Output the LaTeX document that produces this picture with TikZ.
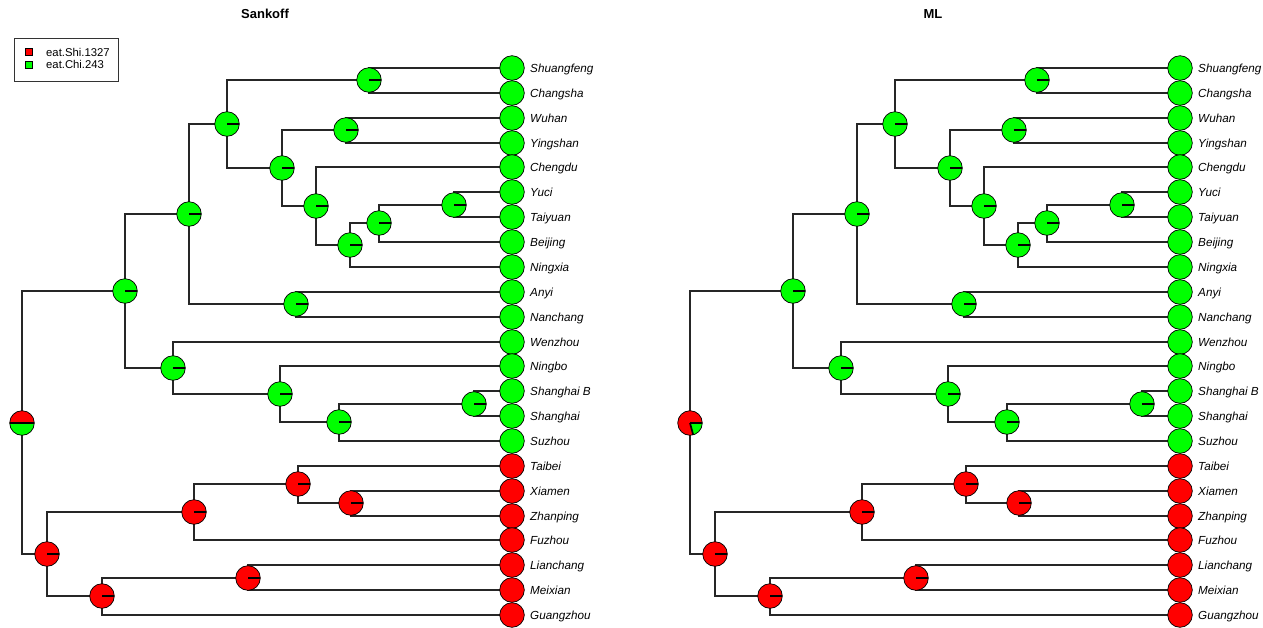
\documentclass[tikz,border=0pt]{standalone}
\usepackage{fontspec}
\usetikzlibrary{calc}
\setmainfont{Liberation Sans}
\definecolor{statered}{RGB}{255,0,0}
\definecolor{stategreen}{RGB}{0,255,0}
\tikzset{
  edge/.style={line width=1.5pt, draw=black!85},
  tipdot/.style={circle, draw=black, line width=0.7pt, minimum size=24.6pt, inner sep=0pt},
  piedot/.style={tipdot, path picture={\draw[line width=1.7pt] (path picture bounding box.center) -- (path picture bounding box.east);}},
  leaflabel/.style={anchor=base west, inner sep=0pt, font=\fontsize{11.7}{13}\selectfont\itshape},
  treetitle/.style={inner sep=0pt, font=\fontsize{13}{15}\selectfont\bfseries},
  legendtext/.style={anchor=base west, inner sep=0pt, font=\fontsize{11.3}{13}\selectfont},
  legendkey/.style={draw=black, line width=0.6pt, minimum width=7pt, minimum height=6.5pt, inner sep=0pt},
}
\begin{document}
\begin{tikzpicture}[x=1pt, y=-1pt]
\useasboundingbox (0,0) rectangle (1263,627);

\foreach \pre/\dx/\ttl in {S/0/Sankoff, M/668/ML} {
\begin{scope}[xshift=\dx pt]
  \node[treetitle] (\pre-title) at (265,14) {\ttl};
  % tips, evenly spaced and snapped to whole units
  \foreach \i in {0,...,22}
    \coordinate (\pre-t\i) at (512, {round(68+24.864*\i)});
  % internal nodes
  \foreach \k/\x/\y in {1/369/80, 2/346/130, 3/454/205, 4/379/223,
      5/350/245, 6/316/206, 7/282/168, 8/227/124, 9/296/304,
      10/189/214, 11/474/404, 12/339/422, 13/280/394, 14/173/368,
      15/125/291, 16/351/503, 17/298/484, 18/194/512, 19/248/578,
      20/102/596, 21/47/554, r/22/423}
    \coordinate (\pre-n\k) at (\x,\y);
  % branches
  \foreach \a/\b in {n1/t0, n1/t1, n2/t2, n2/t3, n3/t5, n3/t6, n4/n3, n4/t7,
      n5/n4, n5/t8, n6/t4, n6/n5, n7/n2, n7/n6, n8/n1, n8/n7, n9/t9, n9/t10,
      n10/n8, n10/n9, n11/t13, n11/t14, n12/n11, n12/t15, n13/t12, n13/n12,
      n14/t11, n14/n13, n15/n10, n15/n14, n16/t17, n16/t18, n17/t16, n17/n16,
      n18/n17, n18/t19, n19/t20, n19/t21, n20/n19, n20/t22, n21/n18, n21/n20,
      nr/n15, nr/n21}
    \draw[edge] (\pre-\a) |- (\pre-\b);
  % tip states and labels
  \foreach \i/\col/\name in {0/stategreen/Shuangfeng, 1/stategreen/Changsha,
      2/stategreen/Wuhan, 3/stategreen/Yingshan, 4/stategreen/Chengdu,
      5/stategreen/Yuci, 6/stategreen/Taiyuan, 7/stategreen/Beijing,
      8/stategreen/Ningxia, 9/stategreen/Anyi, 10/stategreen/Nanchang,
      11/stategreen/Wenzhou, 12/stategreen/Ningbo, 13/stategreen/Shanghai B,
      14/stategreen/Shanghai, 15/stategreen/Suzhou, 16/statered/Taibei,
      17/statered/Xiamen, 18/statered/Zhanping, 19/statered/Fuzhou,
      20/statered/Lianchang, 21/statered/Meixian, 22/statered/Guangzhou} {
    \node[tipdot, fill=\col] (\pre-tipdot\i) at (\pre-t\i) {};
    \node[leaflabel] (\pre-label\i) at ($(\pre-t\i)+(18,4)$) {\name};
  }
  % ancestral states at internal nodes
  \foreach \k/\col in {1/stategreen, 2/stategreen, 3/stategreen, 4/stategreen,
      5/stategreen, 6/stategreen, 7/stategreen, 8/stategreen, 9/stategreen,
      10/stategreen, 11/stategreen, 12/stategreen, 13/stategreen, 14/stategreen,
      15/stategreen, 16/statered, 17/statered, 18/statered, 19/statered,
      20/statered, 21/statered}
    \node[piedot, fill=\col] (\pre-pie\k) at (\pre-n\k) {};
\end{scope}
}

% root states (y axis points down, so visual angles are negated)
\fill[statered] (S-nr) -- ++(12.3,0) arc[start angle=0, end angle=-180, radius=12.3] -- cycle;
\fill[stategreen] (S-nr) -- ++(-12.3,0) arc[start angle=-180, end angle=-360, radius=12.3] -- cycle;
\node[tipdot] (S-pier) at (S-nr) {};
\draw[line width=1.7pt] ($(S-nr)+(-12.3,0)$) -- ($(S-nr)+(12.3,0)$);

\fill[statered] (M-nr) -- ++(75:12.3) arc[start angle=75, end angle=360, radius=12.3] -- cycle;
\fill[stategreen] (M-nr) -- ++(12.3,0) arc[start angle=0, end angle=75, radius=12.3] -- cycle;
\node[tipdot] (M-pier) at (M-nr) {};
\draw[line width=1.7pt] (M-nr) -- ++(12.3,0);
\draw[line width=1.7pt] (M-nr) -- ++(75:12.3);

% legend
\node[draw=black!80, line width=0.7pt, minimum width=104pt, minimum height=43pt,
      inner sep=0pt, anchor=north west] (legend) at (14,38) {};
\node[legendkey, fill=statered] (key1) at (28.7,52) {};
\node[legendkey, fill=stategreen] (key2) at (28.7,64.7) {};
\node[legendtext] (keytext1) at (46,56) {eat.Shi.1327};
\node[legendtext] (keytext2) at (46,68.7) {eat.Chi.243};
\end{tikzpicture}
\end{document}
